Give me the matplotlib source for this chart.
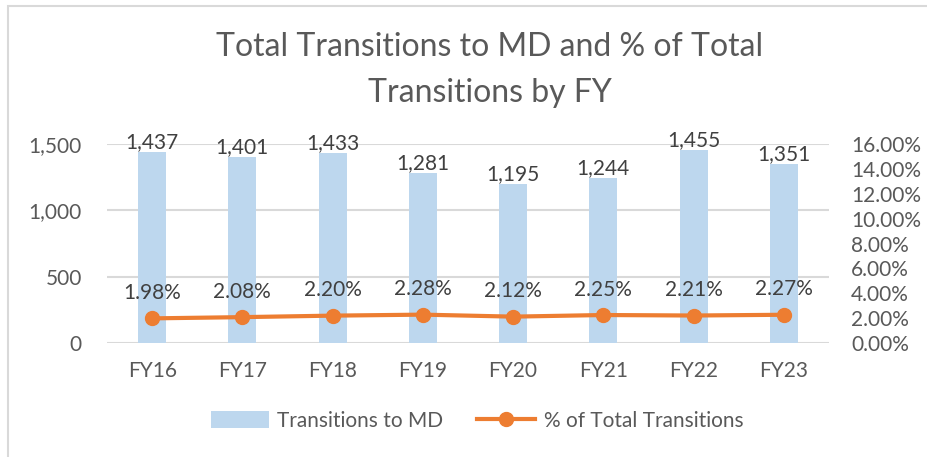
import matplotlib
matplotlib.use("Agg")
import matplotlib.pyplot as plt
from matplotlib.patches import Rectangle
from matplotlib.lines import Line2D
from matplotlib.patches import Patch
from matplotlib.ticker import FuncFormatter

categories = ["FY16", "FY17", "FY18", "FY19", "FY20", "FY21", "FY22", "FY23"]
transitions = [1437, 1401, 1433, 1281, 1195, 1244, 1455, 1351]
pct_total = [1.98, 2.08, 2.20, 2.28, 2.12, 2.25, 2.21, 2.27]
left_ticks = [0, 500, 1000, 1500]
right_ticks = [0, 2, 4, 6, 8, 10, 12, 14, 16]

plt.rcParams['font.family'] = ['Lato', 'DejaVu Sans']
TXT = "#595959"
LBL = "#404040"
BAR = "#BDD7EE"
LINE = "#ED7D31"
GRID = "#D9D9D9"
FS = 15

fig = plt.figure(figsize=(9.28, 4.57), dpi=100)
fig.patches.append(Rectangle((8/928, -0.1), 1.2, (457-6)/457 + 0.1, transform=fig.transFigure,
                             fill=False, edgecolor="#D9D9D9", linewidth=1.5))

ax = fig.add_axes([107/928, (457-343)/457, (829-107)/928, (343-144)/457])
x = list(range(len(categories)))
ax.bar(x, transitions, width=0.31, color=BAR, zorder=2)
ax.set_xlim(-0.5, len(categories) - 0.5)
ax.set_ylim(0, 1500)
ax.set_yticks(left_ticks)
ax.yaxis.set_major_formatter(FuncFormatter(lambda v, p: f"{int(v):,}"))
ax.grid(axis='y', color=GRID, linewidth=1.5, zorder=0)
ax.set_axisbelow(True)
for s in ax.spines.values():
    s.set_visible(False)
ax.tick_params(axis='both', length=0, labelsize=FS, colors=TXT)
ax.tick_params(axis='y', pad=18)
ax.tick_params(axis='x', pad=13)
ax.set_xticks(x)
ax.set_xticklabels(categories)
for xi, v in zip(x, transitions):
    ax.annotate(f"{v:,}", (xi, v), xytext=(0, 0), textcoords='offset points',
                ha='center', va='bottom', fontsize=FS, color=LBL)

ax2 = ax.twinx()
ax2.plot(x, pct_total, color=LINE, linewidth=3, marker='o', markersize=10, zorder=3)
ax2.set_ylim(0, 16)
ax2.set_yticks(right_ticks)
ax2.yaxis.set_major_formatter(FuncFormatter(lambda v, p: f"{v:.2f}%"))
for s in ax2.spines.values():
    s.set_visible(False)
ax2.tick_params(axis='y', length=0, labelsize=FS, colors=TXT, pad=16)
for xi, v in zip(x, pct_total):
    ax2.annotate(f"{v:.2f}%", (xi, v), xytext=(0, 11), textcoords='offset points',
                 ha='center', va='bottom', fontsize=FS, color=LBL)

fig.text(490/928, 1 - 47/457, "Total Transitions to MD and % of Total", ha='center', va='center',
         fontsize=23, color=TXT)
fig.text(490/928, 1 - 93/457, "Transitions by FY", ha='center', va='center',
         fontsize=23, color=TXT)

handles = [Patch(facecolor=BAR, edgecolor='none'),
           Line2D([0], [0], color=LINE, linewidth=3, marker='o', markersize=10)]
fig.legend(handles, ["Transitions to MD", "% of Total Transitions"], loc='center',
           bbox_to_anchor=(477/928, 1 - 421/457), ncol=2, frameon=False, fontsize=FS,
           labelcolor=TXT, handlelength=2.8, handleheight=0.9, columnspacing=1.6, handletextpad=0.4)

fig.savefig("out.png", dpi=100)
